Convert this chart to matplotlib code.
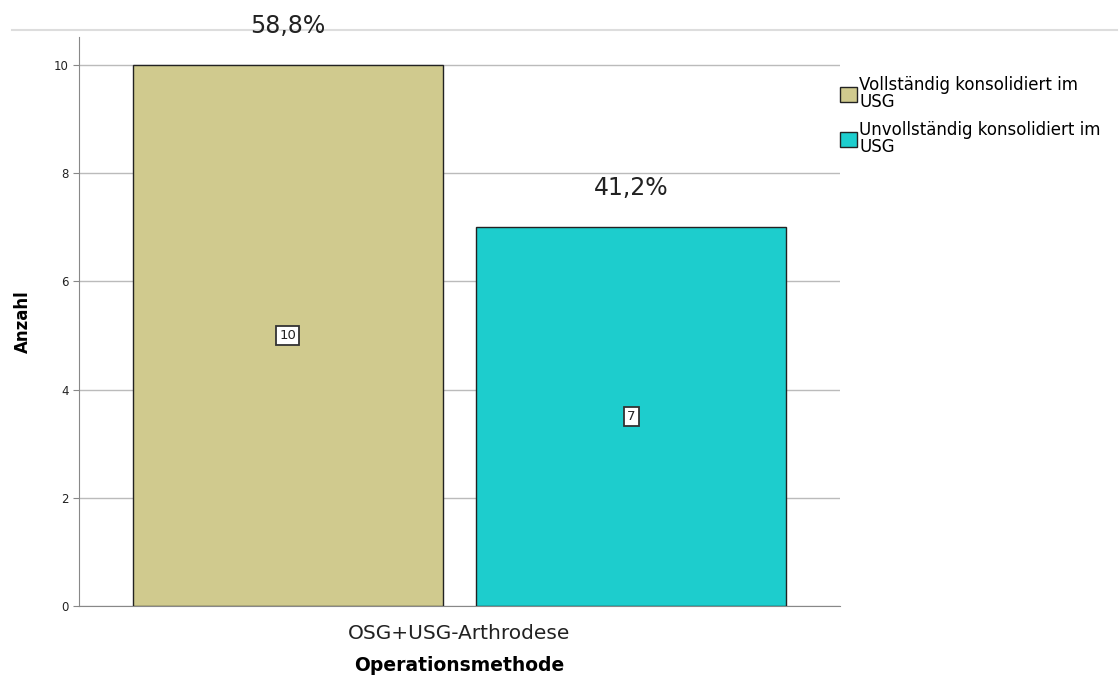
import numpy as np
import matplotlib.pyplot as plt
from matplotlib.lines import Line2D

categories = ['OSG+USG-Arthrodese']
series_names = ['Vollständig konsolidiert im\nUSG', 'Unvollständig konsolidiert im\nUSG']
counts = [10, 7]
percent_labels = ['58,8%', '41,2%']
colors = ['#D0CA8E', '#1DCDCD']

fig = plt.figure(figsize=(11.19, 6.79), dpi=100)
ax = fig.add_axes([0.0706, 0.1075, 0.6801, 0.838])

width = 0.407
offsets = [-0.2257, 0.2257]
handles = []
for i, (name, val) in enumerate(zip(series_names, counts)):
    x = offsets[i]
    b = ax.bar(x, val, width=width, color=colors[i], edgecolor='#222222',
               linewidth=1.0, label=name, zorder=3)
    handles.append(b)
    ax.text(x, val / 2, str(val), ha='center', va='center', fontsize=9.5,
            color='#222222', zorder=4,
            bbox=dict(boxstyle='square,pad=0.25', facecolor='white',
                      edgecolor='#333333', linewidth=1.3))
    ax.text(x, val + 0.72, percent_labels[i], ha='center', va='center',
            fontsize=17, color='#222222', zorder=4)

ax.set_xlim(-0.5, 0.5)
ax.set_ylim(0, 10.52)
ax.set_yticks([0, 2, 4, 6, 8, 10])
ax.set_xticks([0])
ax.set_xticklabels(categories, fontsize=14.5, color='#222222')
ax.tick_params(axis='y', labelsize=8.5, length=4, color='#888888', labelcolor='#222222')
ax.tick_params(axis='x', length=0, pad=13)
ax.yaxis.grid(True, color='#BBBBBB', linewidth=1.0, zorder=0)
ax.set_axisbelow(True)
for s in ['top', 'right']:
    ax.spines[s].set_visible(False)
ax.spines['left'].set_color('#888888')
ax.spines['bottom'].set_color('#888888')

ax.set_ylabel('Anzahl', fontsize=12, fontweight='bold', labelpad=16)
ax.set_xlabel('Operationsmethode', fontsize=13.5, fontweight='bold', labelpad=9)

leg = fig.legend(handles=handles, labels=series_names, loc='upper left',
                 bbox_to_anchor=(0.745, 0.898), frameon=False, fontsize=12,
                 handlelength=1.0, handleheight=1.0, handletextpad=0.15,
                 labelspacing=0.65, borderaxespad=0)
for h in leg.legend_handles:
    h.set_edgecolor('#222222')
for t in leg.get_texts():
    t.set_linespacing(0.9)

fig.add_artist(Line2D([0.011, 0.998], [0.956, 0.956], color='#DDDDDD',
                      linewidth=1.5, zorder=0))

fig.savefig('out.png', dpi=100)
